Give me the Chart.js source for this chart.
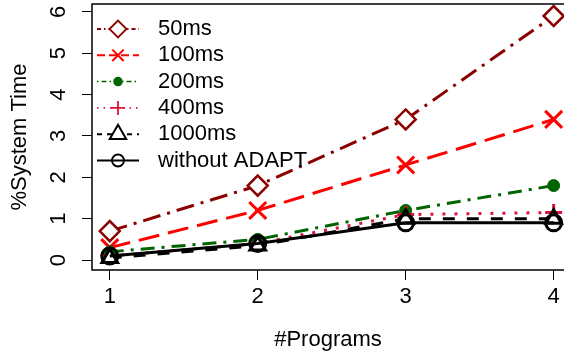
<!DOCTYPE html>
<html>
<head>
<meta charset="utf-8">
<script src="https://cdn.jsdelivr.net/npm/chart.js"></script>
<style>
  html, body { margin: 0; padding: 0; background: #fff; overflow: hidden; }
  #chart { display: block; }
</style>
</head>
<body>
<canvas id="chart" width="564" height="356"></canvas>
<script>
const programs = [1, 2, 3, 4];
const xTicks = [1, 2, 3, 4];
const yTicks = [0, 1, 2, 3, 4, 5, 6];

const seriesNames = ['50ms', '100ms', '200ms', '400ms', '1000ms', 'without ADAPT'];
const ms50 = [0.7, 1.8, 3.4, 5.9];
const ms100 = [0.3, 1.2, 2.3, 3.4];
const ms200 = [0.2, 0.5, 1.2, 1.8];
const ms400 = [0.1, 0.4, 1.1, 1.15];
const ms1000 = [0.05, 0.35, 1.0, 1.0];
const withoutAdapt = [0.1, 0.4, 0.9, 0.9];

const FONT = '"Liberation Sans", Arial, Helvetica, sans-serif';

const styles = [
  { color: '#8B0000', dash: [18, 7, 3, 7], point: 'rectRot', r: 10, pw: 2.5, fill: '#fff',
    lgDash: [4, 3, 1.5, 3], lgR: 8.5, lgW: 1.8 },
  { color: '#FF0000', dash: [21, 9], point: 'crossRot', r: 12, pw: 3, fill: '#fff',
    lgDash: [8, 4], lgR: 8, lgW: 2 },
  { color: '#006400', dash: [14, 7, 3, 7], point: 'circle', r: 6, pw: 1, fill: '#006400',
    lgDash: [1.5, 3, 5, 3], lgR: 4, lgW: 1.5 },
  { color: '#DC143C', dash: [3, 9], point: 'cross', r: 8.5, pw: 3, fill: '#fff',
    lgDash: [1.5, 5], lgR: 7, lgW: 1.8 },
  { color: '#000000', dash: [12, 12], point: 'triangle', r: 9, pw: 3, fill: '#fff',
    lgDash: [5, 5], lgR: 9.5, lgW: 2 },
  { color: '#000000', dash: [], point: 'circle', r: 8, pw: 3, fill: 'rgba(0,0,0,0)',
    lgDash: [], lgR: 6, lgW: 1.8 }
];

const values = [ms50, ms100, ms200, ms400, ms1000, withoutAdapt];

const datasets = values.map((vals, i) => {
  const s = styles[i];
  return {
    label: seriesNames[i],
    data: programs.map((p, j) => ({ x: p, y: vals[j] })),
    borderColor: s.color,
    borderWidth: 3,
    borderDash: s.dash,
    pointStyle: s.point,
    pointRadius: s.r,
    pointBorderWidth: s.pw,
    pointBorderColor: s.color,
    pointBackgroundColor: s.fill,
    tension: 0,
    fill: false,
    clip: 20,
    order: values.length - i
  };
});

// box around the plot region; its right side is cut off by the picture edge
const frame = {
  id: 'frame',
  afterDraw(chart) {
    const { ctx, chartArea: a } = chart;
    ctx.save();
    ctx.strokeStyle = '#000';
    ctx.lineWidth = 1.5;
    ctx.beginPath();
    ctx.moveTo(a.right + 10, a.top);
    ctx.lineTo(a.left, a.top);
    ctx.lineTo(a.left, a.bottom);
    ctx.lineTo(a.right + 10, a.bottom);
    ctx.stroke();
    ctx.restore();
  }
};

// R-style legend: line segment + symbol + text
const rLegend = {
  id: 'rLegend',
  afterDatasetsDraw(chart, args, opts) {
    const ctx = chart.ctx;
    ctx.save();
    chart.data.datasets.forEach((ds, i) => {
      const s = styles[i];
      const y = opts.top + i * opts.step;
      ctx.strokeStyle = s.color;
      ctx.lineWidth = s.lgW;
      ctx.setLineDash(s.lgDash);
      ctx.beginPath();
      ctx.moveTo(opts.x0, y);
      ctx.lineTo(opts.x1, y);
      ctx.stroke();
      ctx.setLineDash([]);
      ctx.fillStyle = s.fill;
      Chart.helpers.drawPoint(ctx, { pointStyle: s.point, radius: s.lgR, borderWidth: s.lgW, rotation: 0 },
        (opts.x0 + opts.x1) / 2, y);
      ctx.fillStyle = '#000';
      ctx.font = '22px ' + FONT;
      ctx.textBaseline = 'middle';
      ctx.textAlign = 'left';
      ctx.fillText(ds.label, opts.textX, y);
    });
    ctx.restore();
  }
};

new Chart(document.getElementById('chart'), {
  type: 'line',
  data: { datasets },
  options: {
    responsive: false,
    animation: false,
    events: [],
    layout: { autoPadding: false, padding: { left: 0, right: 0, top: 4, bottom: 0 } },
    plugins: {
      legend: { display: false },
      tooltip: { enabled: false },
      rLegend: { x0: 97, x1: 139, textX: 158, top: 29, step: 26.3 }
    },
    scales: {
      x: {
        type: 'linear',
        min: 0.88,
        max: 4.07,
        afterBuildTicks: (s) => { s.ticks = xTicks.map(v => ({ value: v })); },
        afterFit: (s) => { s.height = 86; s.paddingLeft = 0; s.paddingRight = 0; },
        border: { display: false },
        grid: { drawOnChartArea: false, drawTicks: true, tickLength: 10, color: '#000', lineWidth: 1 },
        ticks: { color: '#000', font: { family: FONT, size: 22 }, padding: 4, maxRotation: 0 },
        title: { display: true, text: '#Programs', color: '#000', font: { family: FONT, size: 22 },
          padding: { top: 0, bottom: 3 } }
      },
      y: {
        type: 'linear',
        min: -0.24,
        max: 6.19,
        afterBuildTicks: (s) => { s.ticks = yTicks.map(v => ({ value: v })); },
        afterFit: (s) => { s.width = 92; s.paddingTop = 0; s.paddingBottom = 0; },
        border: { display: false },
        grid: { drawOnChartArea: false, drawTicks: true, tickLength: 10, color: '#000', lineWidth: 1 },
        ticks: { color: '#000', font: { family: FONT, size: 22 }, padding: 17,
          minRotation: 90, maxRotation: 90, crossAlign: 'center' },
        title: { display: true, text: '%System Time', color: '#000', font: { family: FONT, size: 22 },
          padding: { top: 7, bottom: 0 } }
      }
    }
  },
  plugins: [frame, rLegend]
});
</script>
</body>
</html>
